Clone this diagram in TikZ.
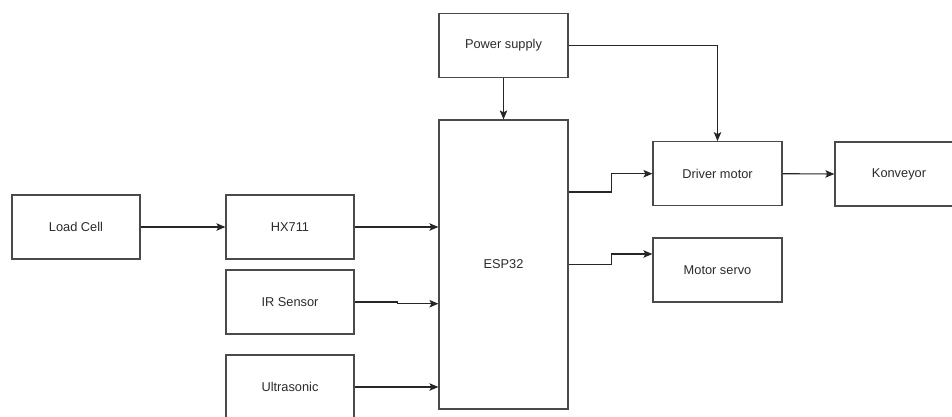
\documentclass[tikz,border=0pt]{standalone}
\usepackage{fontspec}
\setmainfont{Liberation Sans}
\usetikzlibrary{arrows.meta}
\definecolor{boxline}{HTML}{4A4A4A}
\definecolor{txt}{HTML}{2A2A2A}
\begin{document}
\begin{tikzpicture}[x=1pt,y=-1pt,
  blk/.style={draw=boxline,line width=1.2pt,minimum width=128pt,minimum height=64pt,inner sep=0pt,
    text=txt,font=\fontsize{12.8}{15}\selectfont},
  conn/.style={draw=black!85,line width=1.1pt,-{Stealth[length=9pt,width=7.5pt,inset=2pt]}}]
\useasboundingbox (0,0) rectangle (952,417);
\node[blk] (lc) at (76,227) {Load Cell};
\node[blk] (hx) at (290,227) {HX711};
\node[blk] (ir) at (290,302) {IR Sensor};
\node[blk] (us) at (290,387) {Ultrasonic};
\node[blk,minimum width=129pt,minimum height=289pt] (esp) at (503.5,264.5) {ESP32};
\node[blk,minimum width=129pt] (ps) at (503.5,45.3) {Power supply};
\node[blk,minimum width=129pt] (dm) at (717.5,173.7) {Driver motor};
\node[blk,minimum width=129pt] (ms) at (717.5,270) {Motor servo};
\node[blk] (kv) at (899,174) {Konveyor};
\coordinate (irin) at (esp.west |- 0,303.7);
\coordinate (dmout) at (esp.east |- 0,192);
\coordinate (msout) at (esp.east |- 0,264.7);
\coordinate (msin) at (ms.west |- 0,254);
\draw[conn] (lc.east) -- (hx.west);
\draw[conn] (hx.east) -- (hx.east -| esp.west);
\draw[conn] (ir.east) -- ++(43,0) |- (irin);
\draw[conn] (us.east) -- (us.east -| esp.west);
\draw[conn] (ps.south) -- (esp.north);
\draw[conn] (ps.east) -| (dm.north);
\draw[conn] (dmout) -- ++(42.7,0) |- (dm.west);
\draw[conn] (msout) -- ++(42.7,0) |- (msin);
\draw[conn] (dm.east) -- (kv.west);
\end{tikzpicture}
\end{document}
